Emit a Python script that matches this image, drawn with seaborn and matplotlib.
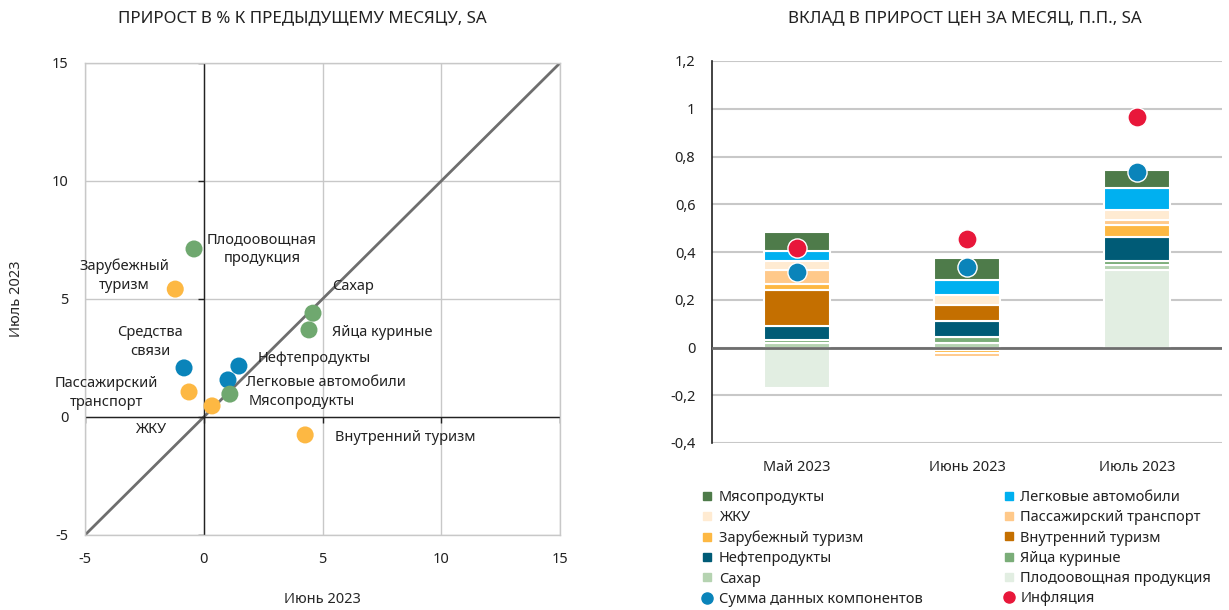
import numpy as np
import pandas as pd
import matplotlib
matplotlib.use('Agg')
import matplotlib.pyplot as plt
from matplotlib.lines import Line2D
import seaborn as sns

# left chart: monthly growth, %, SA (June 2023 vs July 2023)
names = ['Плодоовощная продукция', 'Зарубежный туризм', 'Сахар', 'Яйца куриные',
         'Средства связи', 'Нефтепродукты', 'Легковые автомобили', 'Мясопродукты',
         'Пассажирский транспорт', 'ЖКУ', 'Внутренний туризм']
june = [-0.41, -1.2, 4.6, 4.43, -0.83, 1.48, 1.02, 1.1, -0.62, 0.35, 4.27]
july = [7.12, 5.42, 4.4, 3.69, 2.08, 2.16, 1.57, 0.97, 1.06, 0.47, -0.76]
group = ['food', 'serv', 'food', 'food', 'goods', 'goods', 'goods', 'food',
         'serv', 'serv', 'serv']
labels = ['Плодоовощная\nпродукция', 'Зарубежный\nтуризм', 'Сахар', 'Яйца куриные',
          'Средства\nсвязи', 'Нефтепродукты', 'Легковые автомобили', 'Мясопродукты',
          'Пассажирский\nтранспорт', 'ЖКУ', 'Внутренний туризм']
label_xy = [(2.45, 7.1, 'center'), (-3.36, 5.97, 'center'), (5.4, 5.55, 'left'),
            (5.4, 3.56, 'left'), (-2.26, 3.18, 'center'), (2.25, 2.5, 'left'),
            (1.78, 1.48, 'left'), (1.87, 0.64, 'left'), (-4.1, 1.0, 'center'),
            (-2.22, -0.55, 'center'), (5.54, -0.85, 'left')]

# right chart: contribution to monthly price growth, p.p., SA
months = ['Май 2023', 'Июнь 2023', 'Июль 2023']
# stacking order bottom -> top
series = ['Плодоовощная продукция', 'Сахар', 'Яйца куриные', 'Нефтепродукты',
          'Внутренний туризм', 'Зарубежный туризм', 'Пассажирский транспорт',
          'ЖКУ', 'Легковые автомобили', 'Мясопродукты']
contrib = {
    'Плодоовощная продукция': [-0.17, -0.009, 0.325],
    'Сахар': [0.019, 0.02, 0.021],
    'Яйца куриные': [0.013, 0.022, 0.017],
    'Нефтепродукты': [0.057, 0.071, 0.10],
    'Внутренний туризм': [0.151, 0.067, -0.006],
    'Зарубежный туризм': [0.026, -0.014, 0.05],
    'Пассажирский транспорт': [0.058, -0.015, 0.022],
    'ЖКУ': [0.04, 0.04, 0.041],
    'Легковые автомобили': [0.04, 0.063, 0.092],
    'Мясопродукты': [0.08, 0.091, 0.075],
}
sum_comp = [0.316, 0.338, 0.736]
inflation = [0.417, 0.453, 0.967]

colors = {
    'Мясопродукты': '#4e7b4a',
    'Легковые автомобили': '#00b0f0',
    'ЖКУ': '#ffebd2',
    'Пассажирский транспорт': '#ffc98a',
    'Зарубежный туризм': '#fdb843',
    'Внутренний туризм': '#c46f00',
    'Нефтепродукты': '#005b76',
    'Яйца куриные': '#7aad78',
    'Сахар': '#b5d3b1',
    'Плодоовощная продукция': '#e2eee2',
}
dot_pal = {'food': '#6fa86f', 'serv': '#fdb843', 'goods': '#0a84ba'}
blue = '#0a84ba'
red = '#e8173a'

sns.set_theme(style='white')
plt.rcParams['font.family'] = ['Noto Sans', 'DejaVu Sans']
plt.rcParams['axes.unicode_minus'] = False
plt.rcParams['text.color'] = '#222222'
plt.rcParams['xtick.color'] = '#222222'
plt.rcParams['ytick.color'] = '#222222'

fig = plt.figure(figsize=(12.29, 6.10), dpi=100)

# ---- left scatter ----
ax1 = fig.add_axes([85 / 1229, 1 - 535 / 610, 475 / 1229, 472 / 610])
df = pd.DataFrame({'june': june, 'july': july, 'group': group})
ax1.plot([-5, 15], [-5, 15], color='#6e6e6e', lw=2, zorder=2)
ax1.axhline(0, color='#222222', lw=1, zorder=2)
ax1.axvline(0, color='#222222', lw=1, zorder=2)
ticks = [-5, 0, 5, 10, 15]
ax1.plot([0] * 5, ticks, ls='', marker=0, ms=4, mew=1, color='#222222', zorder=2)
ax1.plot(ticks, [0] * 5, ls='', marker=3, ms=4, mew=1, color='#222222', zorder=2)
sns.scatterplot(data=df, x='june', y='july', hue='group', palette=dot_pal, s=150,
                edgecolor='none', legend=False, ax=ax1, zorder=3)
for lab, (tx, ty, ha) in zip(labels, label_xy):
    ax1.text(tx, ty, lab, ha=ha, va='center', fontsize=10.5, linespacing=1.35)
ax1.set_xlim(-5, 15)
ax1.set_ylim(-5, 15)
ax1.set_xticks(ticks)
ax1.set_yticks(ticks)
ax1.grid(True, color='#c8c8c8', lw=1)
ax1.set_axisbelow(True)
for sp in ax1.spines.values():
    sp.set_color('#c8c8c8')
    sp.set_linewidth(1)
ax1.tick_params(length=0, labelsize=10.5, pad=12)
ax1.set_xlabel('Июнь 2023', fontsize=10.5, labelpad=18)
ax1.set_ylabel('Июль 2023', fontsize=10.5, labelpad=20)
fig.text(302 / 1229, 1 - 18 / 610, 'ПРИРОСТ В % К ПРЕДЫДУЩЕМУ МЕСЯЦУ, SA',
         ha='center', va='center', fontsize=12.2)

# ---- right stacked bars ----
ax2 = fig.add_axes([712 / 1229, 1 - 443 / 610, 510 / 1229, 382 / 610])
x = np.arange(len(months))
pos_base = np.zeros(len(months))
neg_base = np.zeros(len(months))
for s in series:
    v = np.array(contrib[s])
    b = np.where(v >= 0, pos_base, neg_base)
    ax2.bar(x, v, bottom=b, width=0.39, color=colors[s], edgecolor='white',
            linewidth=1.5, zorder=2)
    pos_base = pos_base + np.clip(v, 0, None)
    neg_base = neg_base + np.clip(v, None, 0)
sns.scatterplot(x=x, y=inflation, color=red, s=190, edgecolor='white',
                linewidth=1, ax=ax2, zorder=4)
sns.scatterplot(x=x, y=sum_comp, color=blue, s=190, edgecolor='white',
                linewidth=1, ax=ax2, zorder=4)
ax2.axhline(0, color='#6e6e6e', lw=2, zorder=3)
ax2.set_xlim(-0.5, 2.5)
ax2.set_ylim(-0.4, 1.2)
yt = np.round(np.arange(-0.4, 1.21, 0.2), 1)
ax2.set_yticks(yt)
ax2.set_yticklabels([('%g' % t).replace('.', ',') for t in yt])
ax2.set_xticks(x)
ax2.set_xticklabels(months)
ax2.grid(True, axis='y', color='#c8c8c8', lw=1.5, zorder=0)
ax2.set_axisbelow(True)
for sp in ['top', 'right', 'bottom']:
    ax2.spines[sp].set_visible(False)
ax2.spines['left'].set_color('#222222')
ax2.spines['left'].set_linewidth(1.2)
ax2.tick_params(axis='y', length=4, width=1.2, color='#222222', labelsize=10.5, pad=8)
ax2.tick_params(axis='x', length=0, labelsize=10.5, pad=12)
fig.text(965 / 1229, 1 - 18 / 610, 'ВКЛАД В ПРИРОСТ ЦЕН ЗА МЕСЯЦ, П.П., SA',
         ha='center', va='center', fontsize=12.2)

# legend, row-wise as in the original
def sq(name):
    return Line2D([], [], ls='', marker='s', ms=6, color=colors[name], label=name)

def dot(c, name):
    return Line2D([], [], ls='', marker='o', ms=8, color=c, label=name)

col1 = [sq('Мясопродукты'), sq('ЖКУ'), sq('Зарубежный туризм'), sq('Нефтепродукты'),
        sq('Сахар'), dot(blue, 'Сумма данных компонентов')]
col2 = [sq('Легковые автомобили'), sq('Пассажирский транспорт'), sq('Внутренний туризм'),
        sq('Яйца куриные'), sq('Плодоовощная продукция'), dot(red, 'Инфляция')]
fig.legend(handles=col1 + col2, ncol=2, loc='upper left',
           bbox_to_anchor=(703 / 1229, 1 - 490 / 610), frameon=False,
           fontsize=10.5, handlelength=0.6, handletextpad=0.5,
           columnspacing=5.6, labelspacing=0.36, borderaxespad=0, borderpad=0)

fig.savefig('out.png', dpi=100)
